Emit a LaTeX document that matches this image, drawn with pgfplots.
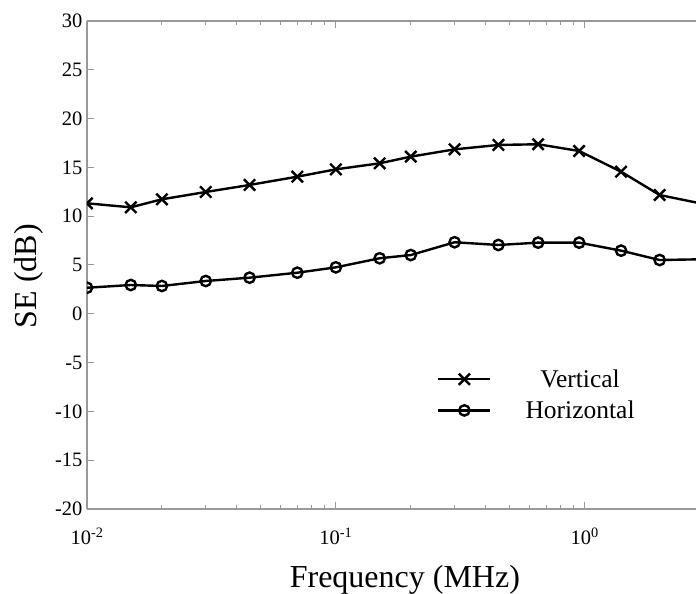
\documentclass[border=0pt]{standalone}
\usepackage{fontspec}
\setmainfont{Liberation Serif}
\usepackage{pgfplots}
\pgfplotsset{compat=1.18}
\usetikzlibrary{calc}

\begin{document}
\begin{tikzpicture}
  \begin{axis}[
    scale only axis,
    width=609pt,
    height=488pt,
    xmode=log,
    xmin=0.01, xmax=2.8,
    ymin=-20, ymax=30,
    ytick distance=5,
    xtick={0.01,0.1,1},
    xticklabels={10\textsuperscript{-2},10\textsuperscript{-1},10\textsuperscript{0}},
    axis x line*=box,
    axis y line*=left,
    tick align=inside,
    major tick length=7pt,
    minor tick length=4pt,
    axis line style={gray!80, line width=1.3pt},
    every tick/.style={gray!80, line width=1pt},
    /pgf/number format/assume math mode=true,
    tick label style={font=\fontsize{20.5}{23}\selectfont},
    xticklabel style={yshift=-15pt},
    yticklabel style={xshift=-1pt},
    clip marker paths=true,
    every axis x label/.style={at={(axis description cs:0.522,0)}, anchor=base, yshift=-78pt},
    every axis y label/.style={at={(axis description cs:-0.0952,0.477)}, anchor=center, rotate=90},
    label style={font=\fontsize{32}{36}\selectfont},
    xlabel={Frequency (MHz)},
    ylabel={SE (dB)},
    legend style={draw=none, fill=none, at={(axis description cs:0.765,0.234)}, anchor=center,
      font=\fontsize{25.5}{30}\selectfont, row sep=8pt,
      nodes={inner xsep=34pt}},
    legend cell align=center,
    legend image code/.code={\draw[mark repeat=2, mark phase=2] plot coordinates {(0pt,0pt) (26pt,0pt) (52pt,0pt)};},
  ]
    \addplot[black, line width=2.4pt, mark=x, mark size=8pt, mark options={solid}] coordinates {
      (0.01,11.32) (0.015,10.91) (0.02,11.73) (0.03,12.48) (0.045,13.2)
      (0.07,14.05) (0.1,14.8) (0.15,15.42) (0.2,16.1) (0.3,16.85)
      (0.45,17.3) (0.65,17.37) (0.95,16.68) (1.4,14.56) (2,12.17) (3,11.25)
    };
    \addlegendentry{Vertical}
    \addplot[black, line width=2.4pt, mark=o, mark size=5.2pt, mark options={solid, fill=white}] coordinates {
      (0.01,2.67) (0.015,2.95) (0.02,2.85) (0.03,3.36) (0.045,3.7)
      (0.07,4.21) (0.1,4.76) (0.15,5.69) (0.2,6.02) (0.3,7.33)
      (0.45,7.05) (0.65,7.29) (0.95,7.29) (1.4,6.47) (2,5.51) (3,5.59)
    };
    \addlegendentry{Horizontal}
  \end{axis}
  \pgfresetboundingbox
  \path[use as bounding box] ($(current axis.south west)+(-87pt,-85pt)$) rectangle ($(current axis.north east)+(0pt,21pt)$);
\end{tikzpicture}
\end{document}
